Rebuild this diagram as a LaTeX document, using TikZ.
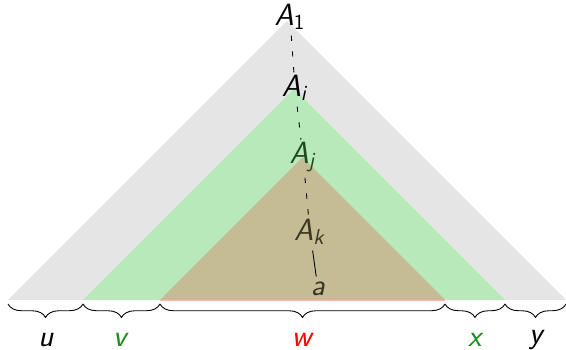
\documentclass[tikz,border=0pt]{standalone}
\usepackage{tikz}
\usetikzlibrary{decorations.pathreplacing,calc}
\definecolor{outergray}{HTML}{E5E5E5}
\definecolor{midgreen}{HTML}{B8E9BA}
\definecolor{innerbrown}{HTML}{C5BB95}
\definecolor{redbase}{HTML}{F4BDB3}
\definecolor{labelgreen}{HTML}{1F8C1F}
\definecolor{deepgreen}{HTML}{1C4A1C}
\definecolor{deepbrown}{HTML}{3B3620}
\newcommand{\sfit}[1]{\textit{#1}}

\begin{document}
\begin{tikzpicture}[x=0.02cm,y=-0.02cm,font=\fontsize{17.5}{21}\selectfont\sffamily]
    \useasboundingbox (0,0) rectangle (566,350);
    % nested subtrees
    \fill[outergray] (287,21) -- (566,300) -- (8,300) -- cycle;
    \fill[midgreen] (294,89) -- (505,300) -- (83,300) -- cycle;
    \fill[innerbrown] (302.5,157.5) -- (445,300) -- (160,300) -- cycle;
    \draw[redbase,line width=0.8pt] (160,300.5) -- (445,300.5);
    % path labels
    \node[inner sep=1pt] (a1) at (290,17) {\sfit{A}\textsubscript{1}};
    \node[inner sep=1pt] (ai) at (295,88) {\sfit{A}\textsubscript{\sfit{i}}};
    \node[inner sep=1pt,deepgreen] (aj) at (303,157) {\sfit{A}\textsubscript{\sfit{j}}};
    \node[inner sep=1pt,deepbrown] (ak) at (310,232) {\sfit{A}\textsubscript{\sfit{k}}};
    \node[inner sep=1pt,deepbrown] (leaf) at (318,289) {\sfit{a}};
    \draw[dash pattern=on 3pt off 6pt,dash phase=-2pt,line width=0.5pt] (a1) -- (ai);
    \draw[dash pattern=on 3pt off 6pt,dash phase=-2pt,line width=0.5pt] (ai) -- (aj);
    \draw[dash pattern=on 3pt off 6pt,dash phase=-2pt,line width=0.5pt] (aj) -- (ak);
    \draw[line width=0.5pt,shorten >=2pt,shorten <=2pt] (ak) -- (leaf);
    % split of the yield
    \foreach \name/\pos in {b0/8,b1/83,b2/160,b3/445,b4/505,b5/566}
      \coordinate (\name) at (\pos,304);
    \foreach \from/\to in {b0/b1,b1/b2,b2/b3,b3/b4,b4/b5}
      \draw[decorate,decoration={brace,mirror,amplitude=0.27cm},line width=0.5pt] (\from) -- (\to);
    \node (u) at (46,340) {\sfit{u}};
    \node[labelgreen] (v) at (121,340) {\sfit{v}};
    \node[red] (w) at (303,340) {\sfit{w}};
    \node[labelgreen] (x) at (476,340) {\sfit{x}};
    \node (y) at (537,340) {\sfit{y}};
\end{tikzpicture}
\end{document}
